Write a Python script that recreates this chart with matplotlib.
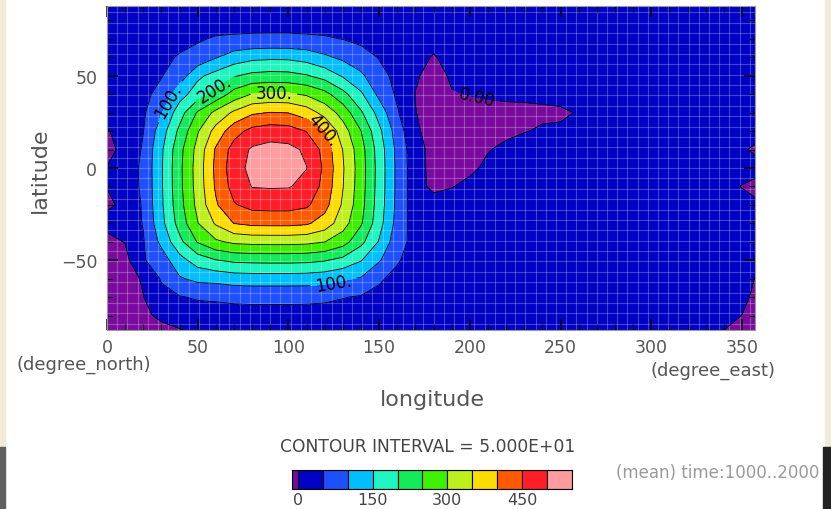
import numpy as np
import matplotlib
matplotlib.use('Agg')
import matplotlib.pyplot as plt
from matplotlib.patches import Rectangle

# grid (10 deg spacing, last column = right edge of the map)
lons = list(range(0, 360, 10)) + [357.2]
lats = list(range(-90, 91, 10))

# one row per latitude, from -90 to 90; columns follow lons
row_s90 = [-20, -20, -15, -10, -10, 5, 20, 20, 20, 20, 20, 20, 20, 20, 20, 20, 20, 20, 20] + [20] * 14 + [15, -5, -10, -15]
row_s80 = [-20, -20, -5, 5, 24, 28, 30, 31, 32, 32, 32, 31, 31, 29, 26, 22, 21, 21, 20] + [20] * 16 + [-1, -15]
row_s70 = [-20, -20, -1, 34, 47, 55, 57, 61, 62, 62, 62, 62, 59, 52, 46, 38, 27, 21, 20] + [20] * 17 + [-15]
row_s60 = [-20, -15, 4, 55, 95, 112, 115, 123, 125, 125, 125, 124, 119, 106, 96, 56, 37, 22, 21] + [20] * 17 + [-1]
row_s50 = [-20, -14, 46, 76, 132, 174, 198, 210, 213, 214, 214, 212, 204, 186, 153, 105, 55, 28, 21] + [20] * 17 + [20]
row_s40 = [-15, 2, 47, 112, 187, 254, 292, 310, 315, 316, 316, 313, 301, 271, 214, 146, 69, 34, 21] + [20] * 17 + [20]
row_s30 = [15, 28, 52, 135, 220, 298, 356, 401, 412, 413, 413, 407, 378, 322, 256, 169, 82, 25, 22] + [20] * 17 + [20]
row_s20 = [-8, 10, 56, 142, 232, 314, 394, 446, 466, 468, 468, 458, 418, 343, 268, 176, 87, 22, 22] + [20] * 17 + [10]
row_s10 = [1, 29, 57, 144, 237, 320, 407, 469, 502, 504, 503, 487, 434, 352, 272, 179, 88, 20, -12] + [-2, 10] + [20] * 13 + [15, -2, -15]
row_eq = [1, 29, 58, 145, 238, 322, 412, 478, 514, 533, 522, 501, 440, 355, 274, 180, 88, 20, -15] + [-12, -8, 8] + [20] * 14 + [20]
row_n10 = [-10, 10, 56, 142, 234, 317, 406, 470, 507, 517, 513, 492, 433, 349, 270, 177, 86, 18, -15] + [-15, -12, -2, 8] + [20] * 12 + [6, -8]
row_n20 = [-3, 15, 49, 126, 212, 296, 368, 431, 465, 476, 472, 448, 400, 324, 251, 162, 76, 6, -15] + [-15, -15, -12, -8, -2, 5, 5, 18] + [20] * 9 + [20]
row_n30 = [21, 22, 43, 97, 178, 256, 314, 359, 393, 402, 399, 376, 333, 280, 207, 131, 55, 1, -15] + [-15, -12, -12, -12, -10, -8, -5, 2] + [20] * 9 + [20]
row_n40 = [20, 22, 40, 63, 130, 175, 215, 270, 303, 309, 307, 294, 266, 216, 158, 88, 42, -1, -15] + [-2, 1, 5, 8, 8, 10, 10] + [20] * 10 + [20]
row_n50 = [20, 20, 24, 48, 74, 140, 168, 196, 213, 218, 216, 204, 181, 145, 110, 62, 40, 5, -15] + [5] + [20] * 16 + [20]
row_n60 = [20, 20, 21, 35, 56, 67, 97, 123, 137, 141, 140, 130, 109, 90, 68, 48, 22, 21, -5] + [20] * 17 + [20]
row_n70 = [20, 20, 20, 22, 30, 45, 55, 57, 58, 58, 58, 57, 55, 49, 40, 30, 21, 20, 20] + [20] * 17 + [20]
row_n80 = [20, 20, 20, 21, 21, 22, 26, 30, 32, 33, 33, 31, 28, 22, 22, 21, 20, 20, 20] + [20] * 17 + [20]
row_n90 = [20] * 37

field = np.array([row_s90, row_s80, row_s70, row_s60, row_s50, row_s40, row_s30,
                  row_s20, row_s10, row_eq, row_n10, row_n20, row_n30, row_n40,
                  row_n50, row_n60, row_n70, row_n80, row_n90], dtype=float)

fill_levels = [-100, 0, 50, 100, 150, 200, 250, 300, 350, 400, 450, 500, 550]
fill_colors = ['#7a0a9e', '#0202c4', '#1e50ff', '#00bfff', '#1ef5c0', '#14eb5a',
               '#3cf000', '#bef01e', '#ffdc00', '#ff5a00', '#ff1e28', '#ff9ca0']
label_levels = [0, 100, 200, 300, 400]
plain_levels = [50, 150, 250, 350, 450, 500]
cbar_ticks = [0, 150, 300, 450]

W, H = 831, 510
fig = plt.figure(figsize=(W / 100, H / 100), dpi=100)

ax = fig.add_axes([107 / W, 1 - 331 / H, (755 - 107) / W, (331 - 7) / H])
ax.contourf(lons, lats, field, levels=fill_levels, colors=fill_colors)

# light cell lines seen on the shading
for x in np.arange(5.625, 357, 5.625):
    ax.axvline(x, color='white', alpha=0.25, lw=0.8, zorder=1.5)
for y in np.arange(-84.4, 87, 5.625):
    ax.axhline(y, color='white', alpha=0.25, lw=0.8, zorder=1.5)

ax.contour(lons, lats, field, levels=plain_levels, colors='k', linewidths=0.6, zorder=2)
cs = ax.contour(lons, lats, field, levels=label_levels, colors='k', linewidths=0.6, zorder=2)


def fmt(v):
    return '0.00' if v == 0 else '%d.' % v


ax.clabel(cs, inline=True, fontsize=12, fmt=fmt,
          manual=[(35, 36), (60, 42), (92, 41), (118, 19), (124, -58), (204, 39)])

ax.set_xlim(0, 357.19)
ax.set_ylim(-87.86, 87.86)
ax.set_xticks(range(0, 351, 50))
ax.set_xticks(range(0, 357, 10), minor=True)
ax.set_yticks([-50, 0, 50])
ax.set_yticks(range(-80, 81, 10), minor=True)
ax.tick_params(which='both', direction='in', top=True, right=True, color='k',
               labelsize=12.5, labelcolor='#555555')
ax.tick_params(which='major', length=8, width=1.1)
ax.tick_params(which='minor', length=4, width=0.8)
ax.tick_params(axis='x', pad=6)
ax.tick_params(axis='y', pad=7)
for s in ax.spines.values():
    s.set_color('#999999')

fig.text(40 / W, 1 - 170 / H, 'latitude', rotation=90, ha='center', va='center',
         fontsize=16, color='#555555')
fig.text(432 / W, 1 - 400 / H, 'longitude', ha='center', va='center',
         fontsize=16, color='#555555')
fig.text(84 / W, 1 - 365 / H, '(degree_north)', ha='center', va='center',
         fontsize=13, color='#555555')
fig.text(713 / W, 1 - 371 / H, '(degree_east)', ha='center', va='center',
         fontsize=13, color='#555555')
fig.text(428 / W, 1 - 447 / H, 'CONTOUR INTERVAL = 5.000E+01', ha='center', va='center',
         fontsize=12.3, color='#444444')
fig.text(718 / W, 1 - 473 / H, '(mean) time:1000..2000', ha='center', va='center',
         fontsize=12, color='#999999')

# colour bar
cax = fig.add_axes([291.7 / W, 1 - 490 / H, (571.7 - 291.7) / W, 19.3 / H])
bounds = [-13] + fill_levels[1:]
for lo, hi, c in zip(bounds[:-1], bounds[1:], fill_colors):
    cax.bar(lo, 1, width=hi - lo, align='edge', color=c, edgecolor='k', linewidth=0.8)
cax.set_xlim(-13, 550)
cax.set_ylim(0, 1)
cax.set_yticks([])
cax.set_xticks(cbar_ticks)
cax.tick_params(axis='x', length=0, labelsize=11.5, labelcolor='#444444', pad=2)

# screenshot border strips
fig.add_artist(Rectangle((0, 62 / H), 4.5 / W, 448 / H, transform=fig.transFigure, color='#f1ead8'))
fig.add_artist(Rectangle((0, 0), 4.5 / W, 62 / H, transform=fig.transFigure, color='#5f5f5f'))
fig.add_artist(Rectangle((825 / W, 62 / H), 6 / W, 448 / H, transform=fig.transFigure, color='#f1ead8'))
fig.add_artist(Rectangle((823 / W, 0), 8 / W, 62 / H, transform=fig.transFigure, color='#222222'))

fig.savefig('out.png', dpi=100)
